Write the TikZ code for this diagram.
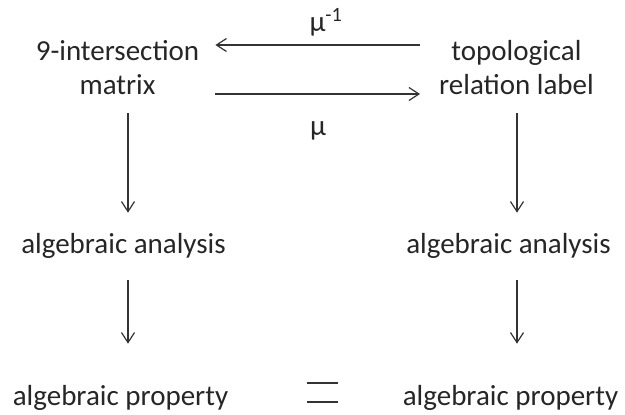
\documentclass[tikz,border=0pt]{standalone}
\usepackage{fontspec}
\setmainfont{Carlito}
\usetikzlibrary{arrows.meta}
\begin{document}
\begin{tikzpicture}[x=1pt,y=-1pt,
  lbl/.style={font=\fontsize{29}{34}\selectfont, inner sep=0pt, align=center, text=black!85},
  arr/.style={-{Straight Barb[length=10pt,width=13pt]}, line width=1.2pt, draw=black!80},
  eqbar/.style={line width=1.8pt, draw=black!80},
]
\useasboundingbox (0,0) rectangle (625,415);
\coordinate (L) at (128,0);
\coordinate (R) at (517,0);
\coordinate (T) at (0,45);
\coordinate (B) at (0,94);
\node[lbl,anchor=base] (nine) at (117.5,94) {9-intersection\\matrix};
\node[lbl,anchor=base] (topo) at (516.5,94) {topological\\relation label};
\node[lbl,anchor=base] (aa1) at (123.5,253) {algebraic analysis};
\node[lbl,anchor=base] (aa2) at (508.5,253) {algebraic analysis};
\node[lbl,anchor=base] (ap1) at (120.5,405) {algebraic property};
\node[lbl,anchor=base] (ap2) at (510.5,405) {algebraic property};
\node[lbl,anchor=base] (muinv) at (326,31) {μ\textsuperscript{-1}};
\node[lbl,anchor=base] (mu) at (318,135) {μ};
\coordinate (eq) at (322.5,392.5);
% horizontal arrows
\draw[arr, shorten <=19pt, shorten >=16pt] (topo.west |- T) -- (nine.east |- T);
\draw[arr, shorten <=16pt, shorten >=19pt] (nine.east |- B) -- (topo.west |- B);
% vertical arrows
\draw[arr, shorten <=19pt, shorten >=20pt] (nine.south -| L) -- (aa1.north -| L);
\draw[arr, shorten <=19pt, shorten >=20pt] (topo.south -| R) -- (aa2.north -| R);
\draw[arr, shorten <=22pt, shorten >=41pt] (aa1.south -| L) -- (ap1.north -| L);
\draw[arr, shorten <=22pt, shorten >=41pt] (aa2.south -| R) -- (ap2.north -| R);
% equals sign
\draw[eqbar] ([xshift=-15.5pt,yshift=9.5pt]eq) -- ([xshift=15.5pt,yshift=9.5pt]eq);
\draw[eqbar] ([xshift=-15.5pt,yshift=-9.5pt]eq) -- ([xshift=15.5pt,yshift=-9.5pt]eq);
\end{tikzpicture}
\end{document}
